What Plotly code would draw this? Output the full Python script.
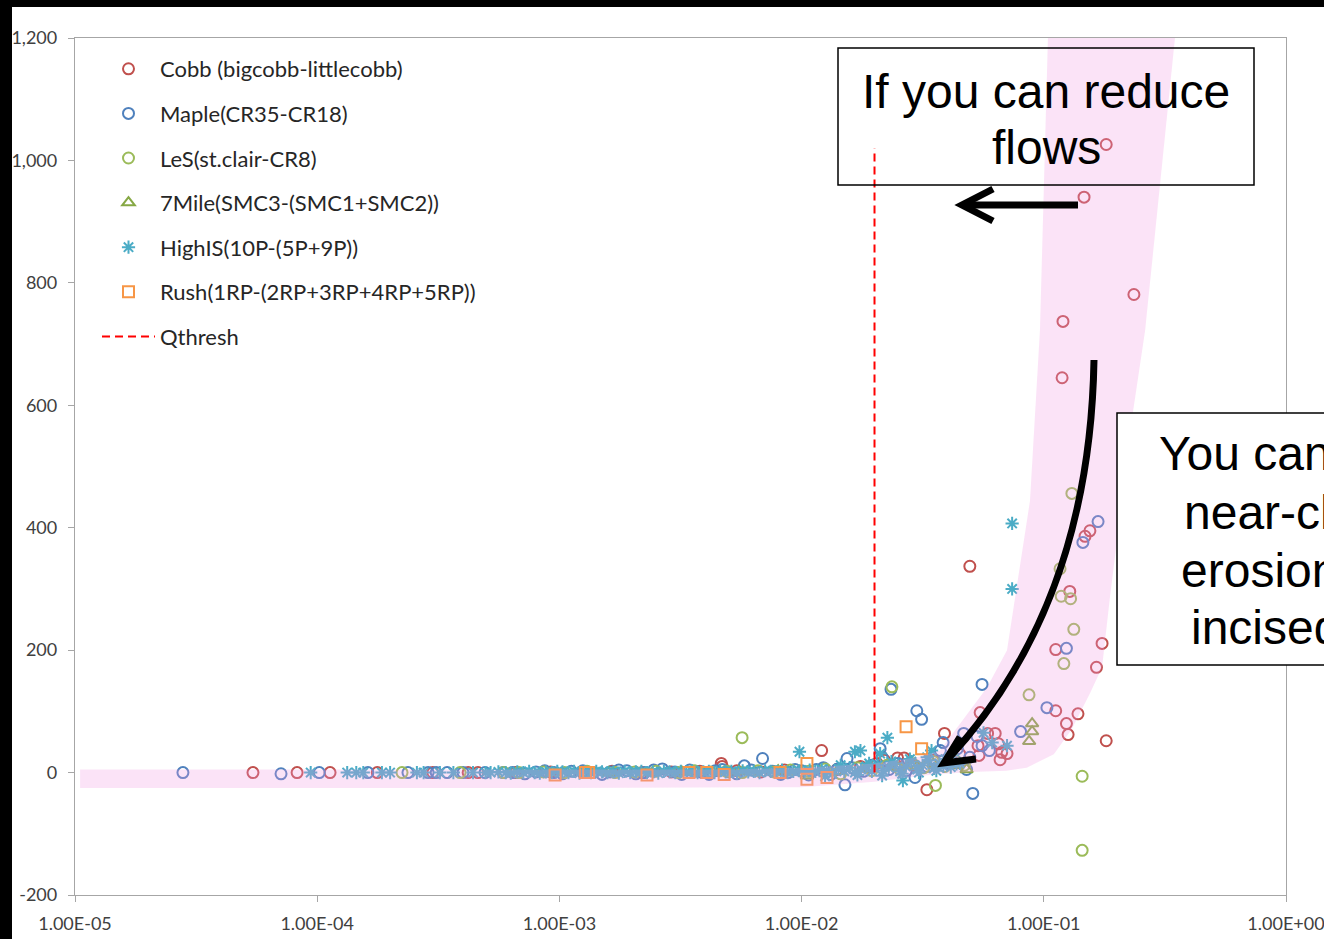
import plotly.graph_objects as go

# ---------------- data ----------------
cobb_x = [5.43e-5, 8.26e-5, 1.13e-4, 1.77e-4, 3.0e-4, 4.2e-4, 4.61e-4,
          6.6e-4, 9.2e-4, 1.25e-3, 1.65e-3, 2.2e-3, 2.9e-3, 3.8e-3, 4.66e-3, 4.7e-3, 5.4e-3,
          6.8e-3, 8.5e-3, 1.21e-2, 1.4e-2, 1.75e-2, 2.05e-2, 2.2e-2, 2.49e-2, 2.65e-2, 2.9e-2,
          3.29e-2, 3.5e-2, 3.89e-2, 4.2e-2, 4.5e-2,
          4.95e-2, 5.35e-2, 5.4e-2, 5.46e-2, 5.86e-2, 6.3e-2, 6.5e-2, 6.6e-2, 6.7e-2, 7.05e-2,
          0.112, 0.1384, 0.124, 0.126, 0.181, 0.112, 0.165, 0.174, 0.128, 0.148, 0.155,
          0.119, 0.12, 0.2355, 0.1466, 0.181]
cobb_y = [0, 0, 0, 0, 0, 0, 0,
          0, 1, 0, 2, 0, 1, 2, 15, 10, 3,
          1, 4, 36, 5, 10, 15, 20, 24, 24, 12,
          -28, 20, 64, 18, 30,
          337, 44, 28, 98, 64, 64, 47, 21, 33, 31,
          101, 96, 80, 62, 52, 201, 172, 211, 296, 386, 395,
          645, 737, 781, 940, 1026]

maple_x = [2.79e-5, 7.09e-5, 1.02e-4, 1.62e-4, 2.37e-4, 2.87e-4, 3.1e-4, 3.44e-4, 4.0e-4, 4.93e-4, 5.85e-4,
           6.4e-4, 7.2e-4, 8.0e-4, 8.7e-4, 9.5e-4, 1.03e-3, 1.12e-3, 1.25e-3, 1.38e-3, 1.5e-3, 1.62e-3,
           1.76e-3, 1.9e-3, 2.07e-3, 2.25e-3, 2.45e-3, 2.66e-3, 3.0e-3, 3.2e-3, 3.45e-3, 3.65e-3,
           3.9e-3, 4.15e-3, 4.4e-3, 4.7e-3, 5.0e-3, 5.4e-3, 5.8e-3, 6.2e-3, 6.9e-3, 7.6e-3, 8.2e-3, 8.8e-3,
           9.4e-3, 1.0e-2, 1.07e-2, 1.15e-2, 1.23e-2, 1.32e-2, 1.41e-2, 1.51e-2,
           1.54e-2, 1.62e-2, 1.8e-2, 1.95e-2, 2.11e-2, 2.15e-2, 2.3e-2, 2.34e-2, 2.5e-2, 2.7e-2, 2.94e-2,
           2.99e-2, 3.13e-2, 3.3e-2, 3.74e-2, 3.84e-2, 4.0e-2, 4.4e-2, 4.67e-2, 4.8e-2, 4.95e-2, 5.09e-2,
           5.56e-2, 5.56e-2, 5.96e-2, 5.3e-2, 8.02e-2, 0.103, 0.124, 0.145, 0.1675]
maple_y = [0, -2, 0, 0, 0, 0, 0, 0, 0, 0, 0,
           0, -2, 1, 3, 0, -2, 2, 3, 0, -3, 1,
           4, 3, -2, 0, 4, 6, 1, -3, 4, 2,
           0, -3, 3, 5, 1, -2, 11, 4, 23, 2, -3, 0,
           5, 3, -4, 5, 8, -3, 6, -20,
           23, 8, 2, 12, 39, 25, 5, 136, 15, 3, -8,
           101, 87, 10, 36, 49, 15, 39, 64, 5, 25, -34,
           144, 44, 36, 59, 67, 106, 203, 376, 410]

les_x = [2.24e-4, 3.89e-4, 5.9e-4,
         6.8e-4, 8.6e-4, 1.05e-3, 1.3e-3, 1.7e-3, 2.05e-3, 2.5e-3, 3.1e-3, 3.6e-3, 4.2e-3, 4.9e-3,
         5.7e-3, 6.6e-3, 7.7e-3, 9.0e-3, 1.07e-2, 1.25e-2, 1.45e-2, 1.7e-2, 1.95e-2, 2.25e-2, 2.55e-2,
         2.85e-2, 3.2e-2, 3.5e-2, 3.9e-2, 4.3e-2, 4.7e-2,
         5.68e-3, 2.36e-2, 3.57e-2, 8.69e-2, 0.1167, 0.118, 0.129, 0.133, 0.121, 0.1306, 0.144, 0.144]
les_y = [0, 0, 0,
         0, 1, 0, 2, 0, 1, 2, 0, 3, 1, 2,
         0, 3, 1, 4, 2, 6, -2, 8, 3, 12, 5,
         15, 8, 18, 10, 20, 12,
         57, 140, -21, 127, 333, 288, 284, 234, 178, 456, -6, -127]

mile7_x = [1.6e-3, 3.2e-3, 5.5e-3, 8.0e-3, 1.05e-2, 1.4e-2, 1.9e-2, 2.5e-2, 3.0e-2, 3.5e-2,
           4.0e-2, 4.4e-2, 4.8e-2, 0.087, 0.0895, 0.0895]
mile7_y = [0, 1, 2, 3, -5, 2, 6, 8, 10, 14, 16, 12, 5, 51, 67, 80]

highis_x = [9.4e-5, 1.33e-4, 1.45e-4, 1.55e-4, 1.85e-4, 2.0e-4, 2.58e-4, 2.75e-4, 3.21e-4, 3.65e-4,
            4.4e-4, 4.95e-4,
            5.2e-4, 5.6e-4, 6.0e-4, 6.3e-4, 6.7e-4, 7.1e-4, 7.5e-4, 7.9e-4, 8.3e-4, 8.8e-4, 9.3e-4, 9.8e-4,
            1.03e-3, 1.09e-3, 1.15e-3, 1.21e-3, 1.28e-3, 1.35e-3, 1.42e-3, 1.50e-3, 1.58e-3, 1.67e-3,
            1.76e-3, 1.86e-3, 1.96e-3,
            2.07e-3, 2.18e-3, 2.30e-3, 2.43e-3, 2.56e-3, 2.70e-3, 2.85e-3, 3.01e-3, 3.17e-3, 3.35e-3,
            3.53e-3, 3.72e-3, 3.93e-3,
            4.14e-3, 4.37e-3, 4.61e-3, 4.86e-3, 5.13e-3, 5.41e-3, 5.71e-3, 6.02e-3, 6.35e-3, 6.70e-3,
            7.07e-3, 7.46e-3, 7.87e-3, 8.30e-3, 8.76e-3, 9.24e-3, 9.75e-3,
            1.03e-2, 1.08e-2, 1.14e-2, 1.21e-2, 1.27e-2, 1.34e-2, 1.42e-2, 1.50e-2, 1.58e-2, 1.66e-2,
            1.76e-2, 1.85e-2, 1.95e-2,
            2.06e-2, 2.17e-2, 2.29e-2, 2.42e-2, 2.55e-2, 2.69e-2, 2.84e-2, 3.00e-2, 3.16e-2, 3.34e-2,
            3.52e-2, 3.71e-2, 3.92e-2, 4.13e-2, 4.36e-2,
            1.25e-2, 1.45e-2, 1.7e-2, 1.9e-2, 2.15e-2, 2.35e-2, 2.6e-2, 2.8e-2, 3.05e-2, 3.3e-2,
            3.6e-2, 3.85e-2, 4.2e-2, 4.5e-2,
            9.8e-3, 1.66e-2, 1.75e-2, 2.26e-2, 2.11e-2, 2.62e-2, 3.44e-2, 5.64e-2, 6.12e-2, 7.05e-2,
            7.4e-2, 7.4e-2]
highis_y = [0, 0, 0, 0, 0, 0, 0, 0, 0, 0,
            0, 0,
            0, 1, 0, -1, 1, 0, 2, 0, -1, 1, 0, 2,
            1, 0, 2, -1, 1, 0, 2, 1, 0, 1,
            -1, 2, 0,
            1, 2, 0, 1, -1, 2, 1, 0, 2, 1,
            3, 0, 1,
            2, 0, 3, 1, 2, -1, 3, 1, 2, 0,
            3, 2, 1, 4, 0, 2, 3,
            1, 4, 2, 5, 3, -2, 6, 2, 8, 0,
            5, 10, 2,
            12, 3, 8, 15, 2, 10, 18, 5, 12, 20,
            7, 15, 22, 9, 14,
            -6, 12, -4, 15, -5, 18, -2, 22, 0, 25,
            3, 10, 28, 15,
            34, 34, 36, 57, 31, -13, 36, 65, 49, 44,
            407, 300]

rush_x = [9.6e-4, 1.28e-3, 1.32e-3, 2.3e-3, 3.43e-3, 4.06e-3, 4.79e-3, 8.15e-3, 1.052e-2, 1.052e-2,
          1.273e-2, 2.7e-2, 3.13e-2]
rush_y = [-4, 0, 0, -4, 0, 0, -3, 0, 15, -11, -8, 75, 39]

qthresh_x = [0.02, 0.02]
qthresh_y = [0, 1020]

# hand-drawn highlight band (outline points)
band_x = [1.05e-5, 1e-3, 5e-3, 1e-2, 2e-2, 3e-2, 3.73e-2, 5.83e-2, 7.05e-2, 8.77e-2, 9.64e-2, 0.104, 0.105,
          0.36, 0.348, 0.262, 0.233, 0.1875, 0.174, 0.155, 0.13, 0.11, 0.085, 0.07, 0.05, 0.035,
          0.02, 0.01, 1e-3, 1.05e-5]
band_y = [5, 5, 5, 8, 15, 25, 36, 139, 200, 444, 722, 1200, 1260,
          1260, 1200, 722, 587, 286, 172, 129, 70, 30, 8, 3, 1, -3,
          -15, -24, -25, -25]

xtick_vals = [1e-5, 1e-4, 1e-3, 1e-2, 1e-1, 1]
xtick_text = ["1.00E-05", "1.00E-04", "1.00E-03", "1.00E-02", "1.00E-01", "1.00E+00"]
ytick_vals = [-200, 0, 200, 400, 600, 800, 1000, 1200]
ytick_text = ["-200", "0", "200", "400", "600", "800", "1,000", "1,200"]

# ---------------- layout helpers (pixel -> paper) ----------------
W, H = 1324, 939
L, R, T, B = 75, 1286, 38, 895


def px(xp):
    return (xp - L) / (R - L)


def py(yp):
    return (B - yp) / (B - T)


fig = go.Figure()

series = [
    ("Cobb (bigcobb-littlecobb)", cobb_x, cobb_y, "circle-open", "#C0504D", 11),
    ("Maple(CR35-CR18)", maple_x, maple_y, "circle-open", "#4F81BD", 11),
    ("LeS(st.clair-CR8)", les_x, les_y, "circle-open", "#9BBB59", 11),
    ("7Mile(SMC3-(SMC1+SMC2))", mile7_x, mile7_y, "triangle-up-open", "#86A844", 11),
    ("HighIS(10P-(5P+9P))", highis_x, highis_y, "asterisk-open", "#4BACC6", 11),
    ("Rush(1RP-(2RP+3RP+4RP+5RP))", rush_x, rush_y, "square-open", "#F79646", 11),
]
for i, (name, xs, ys, sym, col, sz) in enumerate(series):
    fig.add_trace(go.Scatter(
        x=xs, y=ys, mode="markers", name=name, legendgroup=f"g{i}",
        marker=dict(symbol=sym, size=sz, color=col, line=dict(width=2, color=col)),
    ))

fig.add_trace(go.Scatter(
    x=band_x, y=band_y, mode="lines", fill="toself", line=dict(width=0),
    fillcolor="rgba(240,150,225,0.27)", showlegend=False, hoverinfo="skip",
))

fig.add_trace(go.Scatter(
    x=qthresh_x, y=qthresh_y, mode="lines", name="Qthresh", legendgroup="g6",
    line=dict(color="#FF0000", width=2, dash="8px,5px"),
))

axis_font = dict(family="Lato, Open Sans, sans-serif", size=18, color="#404040")
fig.update_layout(
    width=W, height=H,
    margin=dict(l=L, r=W - R, t=T, b=H - B, pad=0),
    paper_bgcolor="white", plot_bgcolor="white",
    showlegend=True,
    xaxis=dict(type="log", range=[-5, 0], tickvals=xtick_vals, ticktext=xtick_text,
               showline=True, mirror=True, linecolor="#a6a6a6", linewidth=1.3,
               ticks="outside", ticklen=6, tickcolor="#a6a6a6", showgrid=False, zeroline=False,
               tickfont=axis_font, automargin=False, ticklabelstandoff=6,
               ticklabeloverflow="allow"),
    yaxis=dict(range=[-200, 1200], tickvals=ytick_vals, ticktext=ytick_text,
               showline=True, mirror=True, linecolor="#a6a6a6", linewidth=1.3,
               ticks="outside", ticklen=6, tickcolor="#a6a6a6", showgrid=False, zeroline=False,
               tickfont=axis_font, automargin=False, ticklabelstandoff=7,
               ticklabeloverflow="allow"),
    legend=dict(x=px(97), y=py(48), xanchor="left", yanchor="top",
                font=dict(family="Lato, Open Sans, sans-serif", size=22, color="#262626"),
                itemwidth=53, tracegroupgap=13, traceorder="grouped",
                bgcolor="rgba(0,0,0,0)", borderwidth=0),
)

# text boxes
shapes = []
shapes.append(dict(type="rect", xref="paper", yref="paper", x0=px(838), x1=px(1254), y0=py(185), y1=py(48),
                   line=dict(color="black", width=1.5), fillcolor="rgba(0,0,0,0)", layer="above"))
shapes.append(dict(type="rect", xref="paper", yref="paper", x0=px(1117), x1=px(1360), y0=py(665), y1=py(413),
                   line=dict(color="black", width=1.5), fillcolor="white", layer="above"))


def P(a, b):
    return f"{px(a):.5f},{py(b):.5f}"


# straight arrow
shapes.append(dict(type="path", xref="paper", yref="paper",
                   path=f"M{P(1078,205)} L{P(964,205)}", line=dict(color="black", width=7), layer="above"))
shapes.append(dict(type="path", xref="paper", yref="paper",
                   path=f"M{P(993,189)} L{P(962,205)} L{P(993,221)}", line=dict(color="black", width=7),
                   layer="above"))
# curved arrow
shapes.append(dict(type="path", xref="paper", yref="paper",
                   path=f"M{P(1094,360)} C{P(1091,530)} {P(1040,660)} {P(947,760)}",
                   line=dict(color="black", width=7), layer="above"))
shapes.append(dict(type="path", xref="paper", yref="paper",
                   path=f"M{P(960,737)} L{P(944,763)} L{P(976,759)}",
                   line=dict(color="black", width=7), layer="above"))
# black slide border strips
shapes.append(dict(type="rect", xref="paper", yref="paper", x0=px(-5), x1=px(12), y0=py(945), y1=py(-5),
                   line=dict(width=0), fillcolor="black", layer="above"))
shapes.append(dict(type="rect", xref="paper", yref="paper", x0=px(-5), x1=px(1330), y0=py(7), y1=py(-5),
                   line=dict(width=0), fillcolor="black", layer="above"))
fig.update_layout(shapes=shapes)

big = dict(family="Liberation Sans, Arial, sans-serif", size=48, color="black")
ann = [
    dict(text="If you can reduce", x=px(1046), y=py(91), xanchor="center", yanchor="middle"),
    dict(text="flows", x=px(1046), y=py(147), xanchor="center", yanchor="middle"),
    dict(text="You can reduce", x=px(1157), y=py(453), xanchor="left", yanchor="middle"),
    dict(text="near-channel", x=px(1182), y=py(512), xanchor="left", yanchor="middle"),
    dict(text="erosion in", x=px(1179), y=py(570), xanchor="left", yanchor="middle"),
    dict(text="incised channels", x=px(1189), y=py(627), xanchor="left", yanchor="middle"),
]
for a in ann:
    a.update(xref="paper", yref="paper", showarrow=False, font=big)
fig.update_layout(annotations=ann)

fig.write_html("out.html", config={"displayModeBar": False},
               post_script="document.body.style.margin='0px';document.body.style.overflow='hidden';")
